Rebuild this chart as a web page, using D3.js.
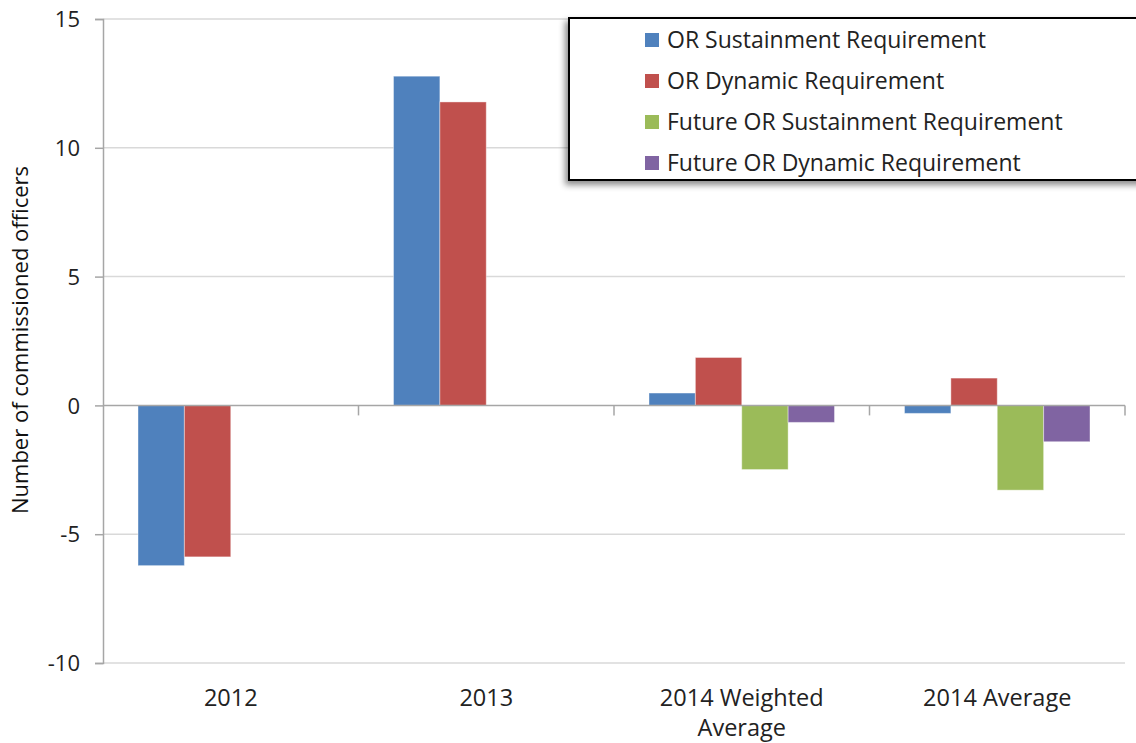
<!DOCTYPE html>
<html>
<head>
<meta charset="utf-8">
<script src="https://cdn.jsdelivr.net/npm/d3@7"></script>
<style>
  body { margin: 0; background: #fff; }
  svg { display: block; font-family: "Open Sans", Lato, sans-serif; }
</style>
</head>
<body>
<svg id="chart"></svg>
<script>
// Dados.
var categories = ["2012", "2013", "2014 Weighted Average", "2014 Average"];
var categoryLines = [["2012"], ["2013"], ["2014 Weighted", "Average"], ["2014 Average"]];
var seriesNames = ["OR Sustainment Requirement", "OR Dynamic Requirement",
                   "Future OR Sustainment Requirement", "Future OR Dynamic Requirement"];
var sustainment = [-6.22, 12.78, 0.48, -0.31];
var dynamic = [-5.88, 11.78, 1.86, 1.06];
var futureSustainment = [null, null, -2.49, -3.29];
var futureDynamic = [null, null, -0.66, -1.41];
var yTicks = [-10, -5, 0, 5, 10, 15];
var colors = ["#4F81BD", "#C0504D", "#9BBB59", "#8064A2"];

var seriesValues = [sustainment, dynamic, futureSustainment, futureDynamic];

var W = 1136, H = 743;
var margin = {top: 19, right: 11, bottom: 80, left: 103},
    width = W - margin.left - margin.right,
    height = H - margin.top - margin.bottom;

var svg = d3.select("#chart").attr("width", W).attr("height", H);

// Sombra da legenda.
var defs = svg.append("defs");
var f = defs.append("filter").attr("id", "shadow")
  .attr("x", "-10%").attr("y", "-20%").attr("width", "120%").attr("height", "150%");
f.append("feDropShadow").attr("dx", -3).attr("dy", 4).attr("stdDeviation", 3)
  .attr("flood-color", "#000").attr("flood-opacity", 0.45);

var g = svg.append("g").attr("transform", "translate(" + margin.left + "," + margin.top + ")");

var x0 = d3.scaleBand().domain(categories).range([0, width]).padding(0);
var x1 = d3.scaleBand().domain(seriesNames).range([35, x0.bandwidth() - 35]).padding(0);
var y = d3.scaleLinear().domain([-10, 15]).range([height, 0]);

// Linhas de grade.
g.selectAll(".grid").data(yTicks.filter(function(d) { return d != 0; }))
  .enter().append("line")
  .attr("x1", 0).attr("x2", width)
  .attr("y1", function(d) { return y(d); }).attr("y2", function(d) { return y(d); })
  .attr("stroke", "#d9d9d9").attr("stroke-width", 1.5);

// Barras.
var groups = g.selectAll(".cat").data(categories).enter().append("g")
  .attr("transform", function(d) { return "translate(" + x0(d) + ",0)"; });

groups.selectAll("rect")
  .data(function(c, i) {
    return seriesNames.map(function(s, j) { return {s: s, v: seriesValues[j][i], c: colors[j]}; })
      .filter(function(d) { return d.v != null; });
  })
  .enter().append("rect")
  .attr("x", function(d) { return x1(d.s); })
  .attr("width", x1.bandwidth())
  .attr("y", function(d) { return y(Math.max(0, d.v)); })
  .attr("height", function(d) { return Math.abs(y(d.v) - y(0)); })
  .attr("fill", function(d) { return d.c; })
  .attr("stroke", "#fff").attr("stroke-opacity", 0.4).attr("stroke-width", 1);

// Eixo y.
var yAxis = g.append("g").call(d3.axisLeft(y).tickValues(yTicks).tickSize(8).tickPadding(15)
  .tickFormat(function(d) { return String(d); }));
yAxis.select(".domain").attr("stroke", "#a6a6a6").attr("stroke-width", 1.5);
yAxis.selectAll(".tick line").attr("stroke", "#a6a6a6").attr("stroke-width", 1.5);
yAxis.selectAll("text").attr("font-size", 22).attr("fill", "#222")
  .attr("font-family", "'Open Sans', sans-serif").attr("dy", "0.35em");

// Eixo x no zero.
g.append("line").attr("x1", 0).attr("x2", width).attr("y1", y(0)).attr("y2", y(0))
  .attr("stroke", "#a6a6a6").attr("stroke-width", 1.5);
g.selectAll(".xtick").data(categories.slice(1).concat(["end"]))
  .enter().append("line")
  .attr("x1", function(d) { return d == "end" ? width : x0(d); })
  .attr("x2", function(d) { return d == "end" ? width : x0(d); })
  .attr("y1", y(0)).attr("y2", y(0) + 10)
  .attr("stroke", "#a6a6a6").attr("stroke-width", 1.5);

// Rótulos das categorias.
g.selectAll(".xlabel").data(categories).enter().append("text")
  .attr("x", function(d) { return x0(d) + x0.bandwidth() / 2; })
  .attr("y", height + 43)
  .attr("text-anchor", "middle").attr("font-size", 23.5).attr("fill", "#222")
  .each(function(d, i) {
    var t = d3.select(this);
    categoryLines[i].forEach(function(line, k) {
      t.append("tspan").attr("x", x0(d) + x0.bandwidth() / 2).attr("dy", k == 0 ? 0 : 30).text(line);
    });
  });

// Rótulo do eixo y.
svg.append("text")
  .attr("transform", "translate(28," + 340 + ") rotate(-90)")
  .attr("text-anchor", "middle").attr("font-size", 22).attr("fill", "#111")
  .text("Number of commissioned officers");

// Legenda.
var legend = svg.append("g");
legend.append("rect").attr("x", 569).attr("y", 18).attr("width", 620).attr("height", 162)
  .attr("fill", "#fff").attr("stroke", "#000").attr("stroke-width", 2)
  .attr("filter", "url(#shadow)");
var items = legend.selectAll(".item").data(seriesNames).enter().append("g")
  .attr("transform", function(d, i) { return "translate(645," + (40 + i * 41) + ")"; });
items.append("rect").attr("x", 0).attr("y", -7).attr("width", 14).attr("height", 14)
  .attr("fill", function(d, i) { return colors[i]; });
items.append("text").attr("x", 22).attr("dy", "0.35em").attr("font-size", 23).attr("fill", "#222")
  .text(function(d) { return d; });
</script>
</body>
</html>
